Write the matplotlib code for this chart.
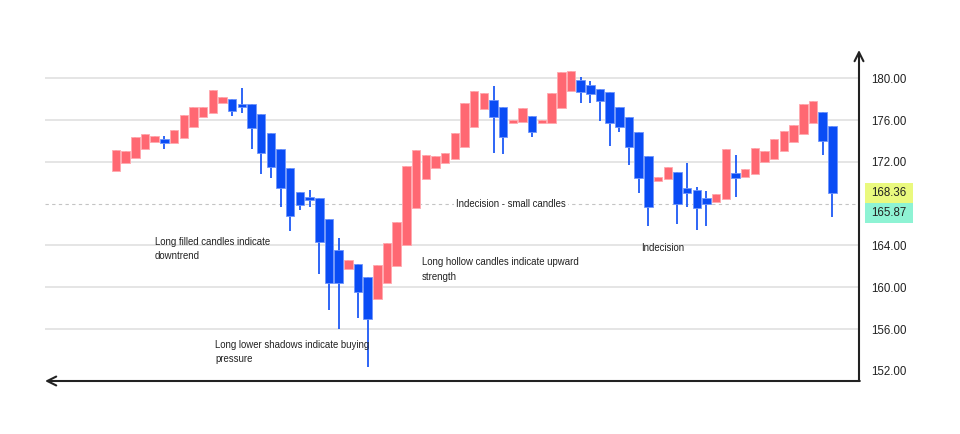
import matplotlib.pyplot as plt
import numpy as np
from matplotlib.patches import Rectangle

# Data (OHLC)
opens = [171.16, 171.87, 172.40, 173.26, 173.87, 174.19, 173.78, 174.32, 175.34, 176.33,
         176.65, 177.61, 178.02, 177.54, 177.54, 176.62, 174.74, 173.23, 171.39, 169.12,
         168.67, 168.52, 166.54, 163.57, 161.75, 162.23, 160.96, 158.88, 160.44, 162.07,
         164.05, 167.62, 170.33, 171.45, 171.92, 172.25, 173.46, 175.37, 177.03, 177.92,
         177.28, 175.69, 175.79, 176.39, 175.69, 175.75, 177.13, 178.81, 179.84, 179.33,
         178.98, 178.66, 177.28, 176.33, 174.89, 172.60, 170.20, 170.33, 171.00, 169.50,
         169.34, 168.52, 168.19, 168.48, 170.97, 170.58, 170.84, 172.02, 172.28, 173.07,
         173.94, 174.70, 175.75, 176.80, 175.46]
closes = [173.14, 173.04, 174.41, 174.67, 174.48, 173.78, 175.05, 176.52, 177.28, 177.22,
          178.85, 178.24, 176.90, 177.28, 175.20, 172.88, 171.54, 169.47, 166.82, 167.90,
          168.35, 164.31, 160.38, 160.38, 162.61, 159.58, 157.00, 162.13, 164.21, 166.22,
          171.61, 173.14, 172.66, 172.60, 172.82, 174.80, 177.61, 178.78, 178.62, 176.33,
          174.41, 176.01, 177.19, 174.83, 176.04, 178.56, 180.60, 180.73, 178.66, 178.47,
          177.86, 175.69, 175.31, 173.40, 170.46, 167.68, 170.58, 171.48, 167.97, 168.99,
          167.59, 167.97, 168.96, 173.20, 170.43, 171.32, 173.30, 173.07, 174.16, 174.96,
          175.56, 177.54, 177.80, 174.00, 168.99]
highs = [173.14, 173.04, 174.41, 174.67, 174.48, 174.48, 175.05, 176.52, 177.28, 177.22,
         178.85, 178.24, 178.02, 179.07, 177.54, 176.62, 174.74, 173.23, 171.39, 169.12,
         169.31, 168.52, 166.54, 164.69, 162.61, 162.23, 160.96, 162.13, 164.21, 166.22,
         171.61, 173.14, 172.66, 172.60, 172.82, 174.80, 177.61, 178.78, 178.62, 179.26,
         177.28, 176.01, 177.19, 176.39, 176.04, 178.56, 180.60, 180.73, 180.16, 179.77,
         178.98, 178.66, 177.28, 176.33, 174.89, 172.60, 170.58, 171.48, 171.00, 171.87,
         169.57, 169.24, 168.96, 173.20, 172.63, 171.32, 173.30, 173.07, 174.16, 174.96,
         175.56, 177.54, 177.80, 176.80, 175.46]
lows = [171.16, 171.87, 172.40, 173.26, 173.87, 173.20, 173.78, 174.32, 175.34, 176.33,
        176.65, 177.61, 176.40, 176.70, 173.20, 170.80, 170.43, 167.71, 165.42, 167.40,
        167.66, 161.24, 157.83, 155.98, 161.75, 157.03, 152.40, 158.88, 160.44, 162.07,
        164.05, 167.62, 170.33, 171.45, 171.92, 172.25, 173.46, 175.37, 177.03, 172.88,
        172.76, 175.69, 175.79, 174.35, 175.69, 175.75, 177.13, 178.81, 177.61, 177.61,
        175.91, 173.55, 174.89, 171.67, 169.05, 165.89, 170.20, 170.33, 166.06, 167.72,
        165.48, 165.87, 168.19, 168.48, 168.67, 170.58, 170.84, 172.02, 172.28, 173.07,
        173.94, 174.70, 175.75, 172.66, 166.70]

# 168 is covered by the price boxes, so it has no tick label
y_ticks = [152, 156, 160, 164, 172, 176, 180]
price_labels = [168.36, 165.87]
price_colors = ['#eaf97e', '#8ef3d4']
ref_level = 168.0

up_color = '#ff6872'
down_color = '#0a4cf5'
ink = '#222222'

plt.rcParams['font.family'] = ['Liberation Sans', 'DejaVu Sans']

fig = plt.figure(figsize=(9.6, 4.34), dpi=100)
ax = fig.add_axes([45 / 960, 1 - 381 / 434, (859 - 45) / 960, (381 - 50) / 434])

x = np.arange(len(opens))
o = np.array(opens)
c = np.array(closes)
up = c >= o
colors = np.where(up, up_color, down_color)
edges = np.where(up, '#ffa9af', '#6f95fb')

# gridlines, plus the dashed reference level
for t in y_ticks:
    if t == 152:
        continue
    ax.axhline(t, color='#dedede', lw=1.1, zorder=0)
ax.axhline(ref_level, color='#c4c4c4', lw=0.8, ls=(0, (3, 3)), zorder=0)

# wicks and bodies
ax.vlines(x, lows, highs, colors=colors, lw=1.2, zorder=2)
ax.bar(x, np.abs(c - o), bottom=np.minimum(o, c), width=0.88, color=colors,
       edgecolor=edges, linewidth=0.6, zorder=3)

ax.set_xlim((45 - 116) / 9.68, (859 - 116) / 9.68)
ax.set_ylim(151.03, 182.71)

# axes look
for s in ax.spines.values():
    s.set_visible(False)
ax.set_xticks([])
ax.yaxis.tick_right()
ax.set_yticks(y_ticks)
ax.set_yticklabels([f'{t:.2f}' for t in y_ticks])
ax.tick_params(axis='y', length=0, pad=9.0, labelsize=8.3, labelcolor=ink)

ax.annotate('', xy=(1, 1), xycoords='axes fraction', xytext=(1, 0),
            arrowprops=dict(arrowstyle='->', lw=1.5, color=ink, mutation_scale=16,
                            shrinkA=0, shrinkB=0), annotation_clip=False)
ax.annotate('', xy=(0, 0), xycoords='axes fraction', xytext=(1.001, 0),
            arrowprops=dict(arrowstyle='->', lw=1.5, color=ink, mutation_scale=16,
                            shrinkA=0, shrinkB=0), annotation_clip=False)

# price label boxes
trans = ax.get_yaxis_transform()
box_top = 169.98
box_h = 1.91
for i, (val, col) in enumerate(zip(price_labels, price_colors)):
    y0 = box_top - box_h * (i + 1)
    ax.add_patch(Rectangle((1.0074, y0), 0.059, box_h, transform=trans,
                           facecolor=col, edgecolor='none', clip_on=False, zorder=4))
    ax.text(1.0155, y0 + box_h / 2, f'{val:.2f}', transform=trans, ha='left',
            va='center', fontsize=8.3, color=ink, zorder=5)

# annotations
txt = dict(fontsize=6.9, color=ink, ha='left', va='center', linespacing=1.6, zorder=5)
ax.text(4.03, 163.67, 'Long filled candles indicate\ndowntrend', **txt)
ax.text(10.23, 153.81, 'Long lower shadows indicate buying\npressure', **txt)
ax.text(31.58, 161.70, 'Long hollow candles indicate upward\nstrength', **txt)
ax.text(35.12, 167.97, 'Indecision - small candles',
        bbox=dict(facecolor='white', edgecolor='none', pad=1.5), **txt)
ax.text(54.24, 163.77, 'Indecision', **txt)

fig.savefig('out.png', dpi=100, facecolor='white')
